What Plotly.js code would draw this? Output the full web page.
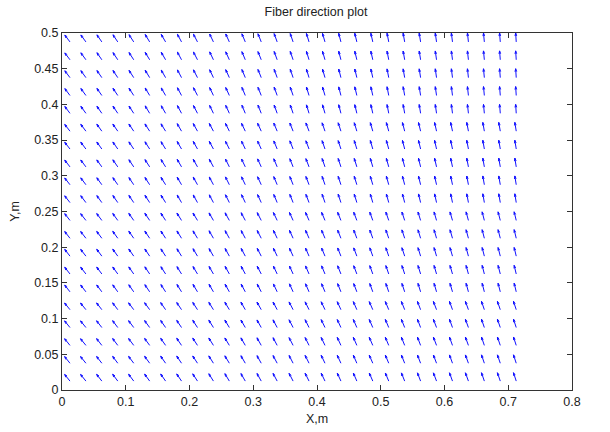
<!DOCTYPE html>
<html><head><meta charset="utf-8">
<script src="https://cdn.plot.ly/plotly-3.0.1.min.js"></script>
<style>html,body{margin:0;padding:0;background:#fff}#plot{width:610px;height:432px}</style>
</head><body><div id="plot"></div>
<script>
// Grid of arrow base points (cell centres)
const xGrid = [0.0125,0.0375,0.0625,0.0875,0.1125,0.1375,0.1625,0.1875,0.2125,0.2375,0.2625,0.2875,0.3125,0.3375,0.3625,0.3875,0.4125,0.4375,0.4625,0.4875,0.5125,0.5375,0.5625,0.5875,0.6125,0.6375,0.6625,0.6875,0.7125];
const yGrid = [0.0125,0.0375,0.0625,0.0875,0.1125,0.1375,0.1625,0.1875,0.2125,0.2375,0.2625,0.2875,0.3125,0.3375,0.3625,0.3875,0.4125,0.4375,0.4625,0.4875];
// Fiber tilt from vertical (degrees, leaning left), per column, for four row bands (bottom to top)
const angleBand1 = [42,42,41,40,40,39,38,37,36,35,34,33,32,31,30,29,28,27,26,26,25,24,23,23,22,22,21,21,20];
const angleBand2 = [41,41,40,39,38,37,36,35,34,33,32,31,30,28,27,26,25,24,23,22,21,20,19,18,18,17,16,16,15];
const angleBand3 = [41,40,39,38,37,36,35,33,32,31,29,28,27,25,24,23,21,20,19,18,17,16,15,14,13,12,11,11,10];
const angleBand4 = [40,39,38,37,36,34,33,31,30,28,27,25,24,22,21,19,18,16,15,14,12,11,10,9,8,7,6,5,4];
const bands = [angleBand1, angleBand2, angleBand3, angleBand4];
const rowsPerBand = 5;
const arrowLen = 0.0125;

const xs = [], ys = [];
const alpha = 0.33, beta = 0.33;
yGrid.forEach((y, j) => {
  const band = bands[Math.min(bands.length - 1, Math.floor(j / rowsPerBand))];
  xGrid.forEach((x, i) => {
    const a = band[i] * Math.PI / 180;
    const u = -arrowLen * Math.sin(a), v = arrowLen * Math.cos(a);
    const tx = x + u, ty = y + v;
    xs.push(x, tx, null); ys.push(y, ty, null);
    xs.push(tx - alpha * (u + beta * v), tx, tx - alpha * (u - beta * v), null);
    ys.push(ty - alpha * (v - beta * u), ty, ty - alpha * (v + beta * u), null);
  });
});

const xTicks = [0,0.1,0.2,0.3,0.4,0.5,0.6,0.7,0.8];
const xTickText = ['0','0.1','0.2','0.3','0.4','0.5','0.6','0.7','0.8'];
const yTicks = [0,0.05,0.1,0.15,0.2,0.25,0.3,0.35,0.4,0.45,0.5];
const yTickText = ['0','0.05','0.1','0.15','0.2','0.25','0.3','0.35','0.4','0.45','0.5'];

const font = {family: 'Liberation Sans, Arial, sans-serif', size: 12.5, color: '#222'};
const axCommon = {
  showgrid: false, zeroline: false, showline: true, mirror: 'ticks', linecolor: '#333', linewidth: 1,
  ticks: 'inside', ticklen: 5, tickcolor: '#333', tickfont: font
};
Plotly.newPlot('plot', [{
  x: xs, y: ys, type: 'scatter', mode: 'lines', line: {color: '#1010ff', width: 1},
  hoverinfo: 'skip', showlegend: false, connectgaps: false
}], {
  width: 610, height: 432,
  margin: {l: 62, r: 38, t: 33, b: 42},
  paper_bgcolor: '#fff', plot_bgcolor: '#fff',
  title: {text: 'Fiber direction plot', font: font, x: 0.518, xanchor: 'center', y: 1 - 12/432, yref: 'container', yanchor: 'middle'},
  xaxis: Object.assign({}, axCommon, {range: [0, 0.8], tickvals: xTicks, ticktext: xTickText,
    title: {text: 'X,m', font: font, standoff: 6}}),
  yaxis: Object.assign({}, axCommon, {range: [0, 0.5], tickvals: yTicks, ticktext: yTickText,
    title: {text: 'Y,m', font: font, standoff: 11}})
}, {staticPlot: true, displayModeBar: false});
</script></body></html>
